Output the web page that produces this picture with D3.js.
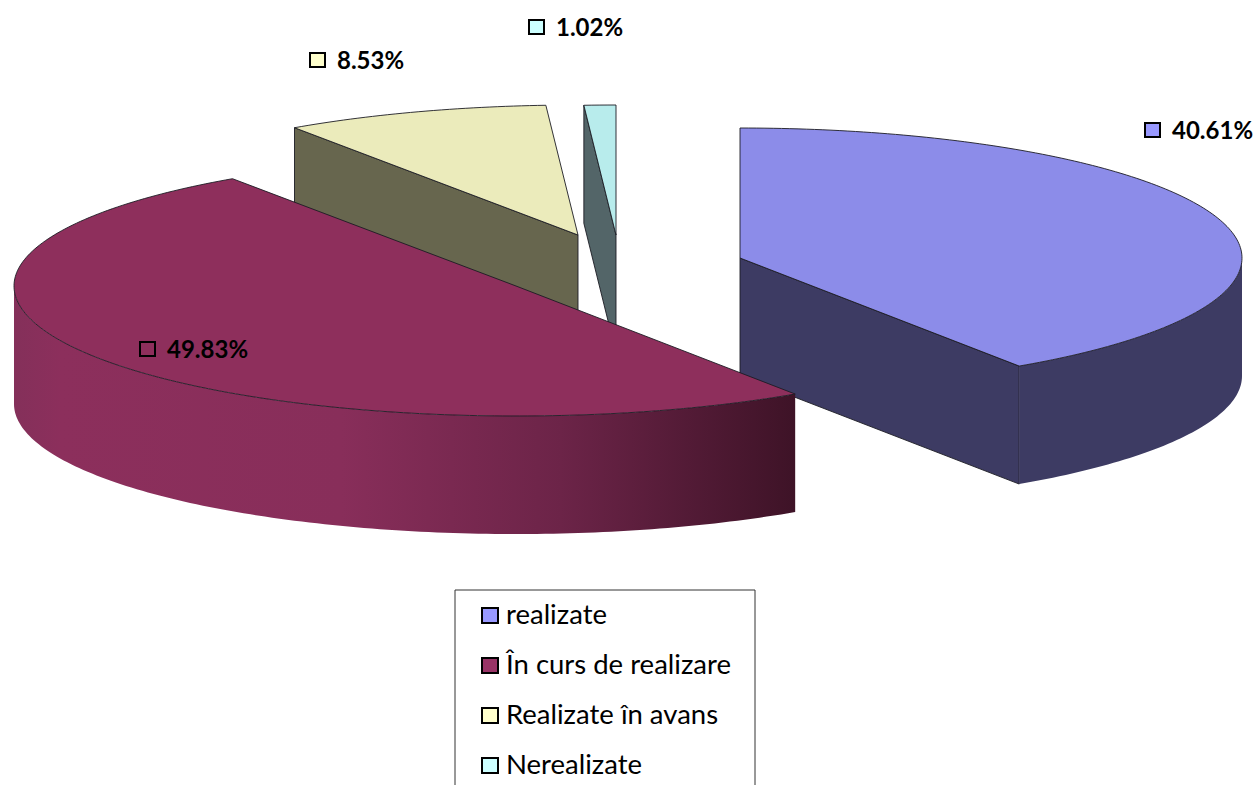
<!DOCTYPE html>
<html><head><meta charset="utf-8">
<script src="https://cdn.jsdelivr.net/npm/d3@7"></script>
<style>html,body{margin:0;padding:0;background:#fff;overflow:hidden}svg{display:block}text{font-family:Lato,"Open Sans",sans-serif;fill:#000}</style>
</head><body><div id="c"></div>
<script>
const categories = ["realizate","În curs de realizare","Realizate în avans","Nerealizate"];
const values = [40.61,49.83,8.53,1.02];
const valueLabels = ["40.61%","49.83%","8.53%","1.02%"];
const swatchColors = ["#9999ff","#993366","#ffffcc","#ccffff"];
const topColors = ["#8c8ce9","#8e2f5c","#ebebbb","#b8ecec"];
const wallColors = ["#3d3b63","url(#redWall)","#67664e","#536568"];
const explodeCenters = [[740,258],[516,286],[578,235],[616,235]];
const labelAnchors = [[1144,122],[139,341],[309,52],[528,19]];

const W=1256,H=785,RX=502,RY=130,DEPTH=118;
const svg=d3.select("#c").append("svg").attr("width",W).attr("height",H);
const grad=svg.append("defs").append("linearGradient").attr("id","redWall")
  .attr("gradientUnits","userSpaceOnUse").attr("x1",14).attr("x2",795).attr("y1",0).attr("y2",0);
[[0,"#84305a"],[0.06,"#8c2f5c"],[0.42,"#882e5a"],[0.7,"#6c2448"],[1,"#3e1327"]]
  .forEach(s=>grad.append("stop").attr("offset",s[0]).attr("stop-color",s[1]));

const xs=d3.scaleLinear().domain([-1,1]).range([-RX,RX]);
const ys=d3.scaleLinear().domain([-1,1]).range([-RY,RY]);
const pie=d3.pie().sort(null).value(d=>d)(values);
const line=d3.line().x(d=>d[0]).y(d=>d[1]);
const pt=(c,a,dz=0)=>[c[0]+xs(Math.sin(a)),c[1]-ys(Math.cos(a))+dz];
const arcPts=(c,a0,a1,dz=0)=>{const n=Math.max(2,Math.ceil((a1-a0)*60));return d3.range(n+1).map(i=>pt(c,a0+(a1-a0)*i/n,dz));};

const order=d3.range(values.length).sort((a,b)=>explodeCenters[a][1]-explodeCenters[b][1]);
const STROKE={stroke:"#1c1c24","stroke-width":0.9,"stroke-linejoin":"round"};
function draw(pts,fill,g,stroked=true){
  const p=g.append("path").attr("d",line(pts)+"Z").attr("fill",fill);
  if(stroked) Object.entries(STROKE).forEach(([k,v])=>p.attr(k,v));
}
order.forEach(i=>{
  const s=pie[i],c=explodeCenters[i],g=svg.append("g");
  const a0=s.startAngle,a1=s.endAngle,PI=Math.PI;
  const lo=Math.max(a0,PI/2),hi=Math.min(a1,3*PI/2);
  if(a0>PI) draw([c,pt(c,a0),pt(c,a0,DEPTH),[c[0],c[1]+DEPTH]],wallColors[i],g);
  if(a1<PI) draw([c,pt(c,a1),pt(c,a1,DEPTH),[c[0],c[1]+DEPTH]],wallColors[i],g);
  if(hi>lo) draw(arcPts(c,lo,hi).concat(arcPts(c,lo,hi,DEPTH).reverse()),wallColors[i],g,false);
  draw([c].concat(arcPts(c,a0,a1)),topColors[i],g);
});

labelAnchors.forEach((a,i)=>{
  svg.append("rect").attr("x",a[0]+1).attr("y",a[1]+1).attr("width",15).attr("height",14)
    .attr("fill",swatchColors[i]==="#993366"?"none":swatchColors[i]).attr("stroke","#000").attr("stroke-width",2);
  svg.append("text").attr("x",a[0]+28).attr("y",a[1]+16.5).attr("font-size",24).attr("font-weight",700).text(valueLabels[i]);
});

svg.append("path").attr("d",d3.line()([[455,H],[455,590],[755,590],[755,H]])).attr("fill","none").attr("stroke","#333").attr("stroke-width",1);
const ly=d3.scalePoint().domain(categories).range([624,774]);
categories.forEach((t,i)=>{
  svg.append("rect").attr("x",482).attr("y",ly(t)-16).attr("width",16).attr("height",15)
    .attr("fill",swatchColors[i]).attr("stroke","#000").attr("stroke-width",2);
  svg.append("text").attr("x",506).attr("y",ly(t)).attr("font-size",27.5).text(t);
});
</script></body></html>
